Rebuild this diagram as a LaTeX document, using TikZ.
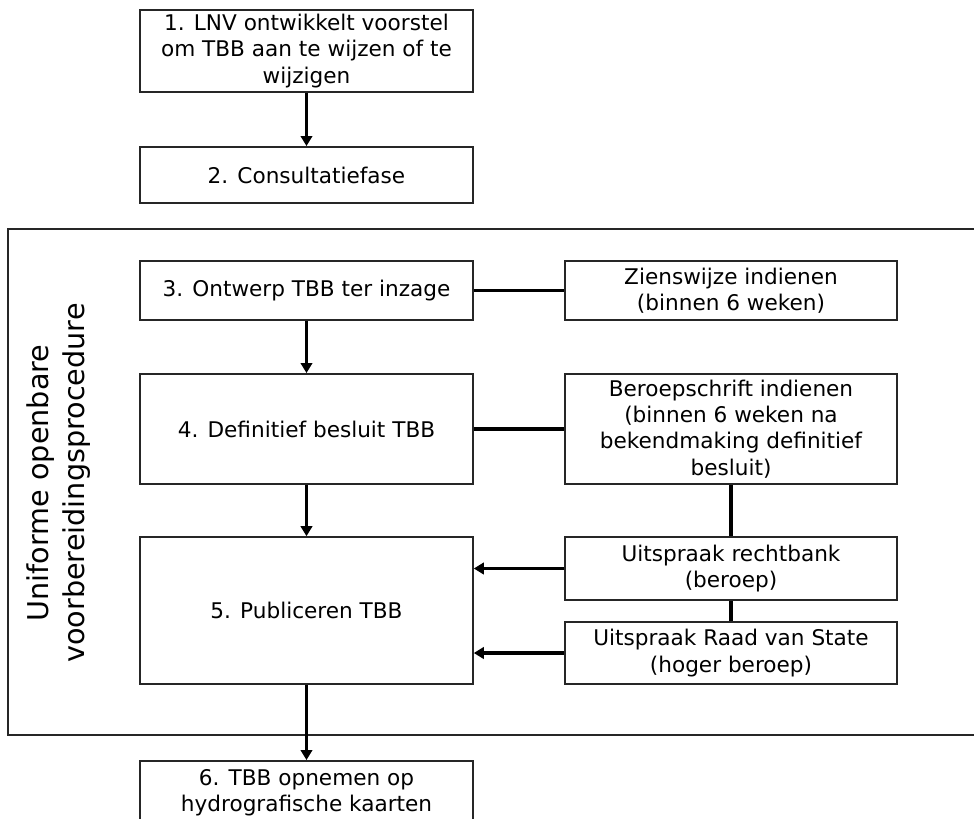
\documentclass[tikz,border=0pt]{standalone}
\usepackage{fontspec}
\setmainfont{DejaVu Sans}
\usepackage{tikz}
\usetikzlibrary{arrows.meta,positioning}

\begin{document}
\begin{tikzpicture}[
    x=0.75pt, y=-0.75pt,
    stap/.style={
        % The shape:
        rectangle,
        minimum width=249.5pt,
        inner sep=2pt,
        % The line
        line width=1.4pt,
        draw=black!85,
        fill=white,
        % The fonts
        align=center,
        font=\fontsize{16.2}{19.7}\selectfont},
    pijl/.style={line width=2.3pt, -{Triangle[length=7.5pt,width=8.5pt]}},
    lijn/.style={line width=2.3pt}]
  \useasboundingbox (0,0) rectangle (974,818);
  % kader van de procedure
  \draw[line width=1.4pt, black!85] (8,229) rectangle (990,735);
  \node (procedure) [rotate=90, align=center,
      font=\fontsize{21.5}{27}\selectfont] at (59,483)
      {Uniforme openbare\\voorbereidingsprocedure};
  % linker kolom
  \node (voorstel) [stap, minimum height=61.5pt] at (306.5,51)
      {1. LNV ontwikkelt voorstel\\om TBB aan te wijzen of te\\wijzigen};
  \node (consultatie) [stap, minimum height=42pt] at (306.5,175) {2. Consultatiefase};
  \node (ontwerp) [stap, minimum height=44pt] at (306.5,290.5) {3. Ontwerp TBB ter inzage};
  \node (definitief) [stap, minimum height=82.5pt] at (306.5,429) {4. Definitief besluit TBB};
  \node (publiceren) [stap, minimum height=110pt] at (306.5,610.5) {5. Publiceren TBB};
  \node (opnemen) [stap, minimum height=48pt] at (306.5,793)
      {6. TBB opnemen op\\hydrografische kaarten};
  % rechter kolom
  \node (zienswijze) [stap, minimum height=44pt] at (731,290.5)
      {Zienswijze indienen\\(binnen 6 weken)};
  \node (beroepschrift) [stap, minimum height=82.5pt] at (731,429)
      {Beroepschrift indienen\\(binnen 6 weken na\\bekendmaking definitief\\besluit)};
  \node (rechtbank) [stap, minimum height=47pt] at (731,568.5)
      {Uitspraak rechtbank\\(beroep)};
  \node (raad van state) [stap, minimum height=46.5pt] at (731,653)
      {Uitspraak Raad van State\\(hoger beroep)};
  % verbindingen
  \draw[pijl] (voorstel) -- (consultatie);
  \draw[pijl] (ontwerp) -- (definitief);
  \draw[pijl] (definitief) -- (publiceren);
  \draw[pijl] (publiceren) -- (opnemen);
  \draw[lijn] (ontwerp) -- (zienswijze);
  \draw[lijn] (definitief) -- (beroepschrift);
  \draw[lijn] (beroepschrift) -- (rechtbank);
  \draw[lijn] (rechtbank) -- (raad van state);
  \draw[pijl] (rechtbank) -- (rechtbank -| publiceren.east);
  \draw[pijl] (raad van state) -- (raad van state -| publiceren.east);
\end{tikzpicture}
\end{document}
